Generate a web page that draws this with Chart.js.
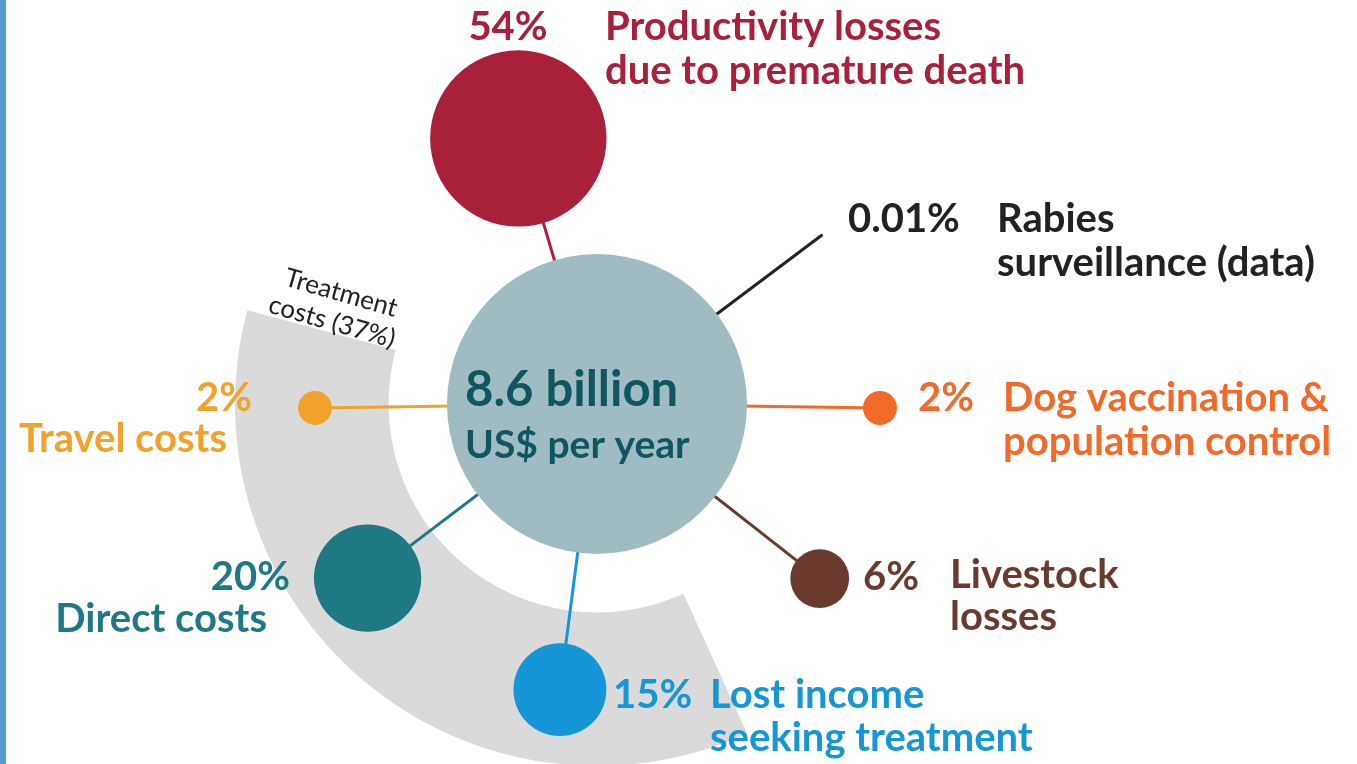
<!DOCTYPE html>
<html>
<head>
<meta charset="utf-8">
<script src="https://cdn.jsdelivr.net/npm/chart.js@4"></script>
<style>
html,body{margin:0;padding:0;background:#ffffff;overflow:hidden;}
#wrap{position:relative;width:1357px;height:764px;overflow:hidden;background:#ffffff;}
#arcBox{position:absolute;left:227px;top:34px;width:740px;height:740px;}
#main{position:absolute;left:0;top:0;}
#stripe{position:absolute;left:0;top:0;width:6px;height:764px;background:#5b9bd5;}
</style>
</head>
<body>
<div id="wrap">
  <div id="arcBox"><canvas id="arc" width="740" height="740"></canvas></div>
  <canvas id="main" width="1357" height="764"></canvas>
  <div id="stripe"></div>
</div>
<script>
// ---------------- data ----------------
const categories = [
  'Productivity losses due to premature death',
  'Rabies surveillance (data)',
  'Dog vaccination & population control',
  'Livestock losses',
  'Lost income seeking treatment',
  'Direct costs',
  'Travel costs'
];
const labelLines = [
  ['Productivity losses', 'due to premature death'],
  ['Rabies', 'surveillance (data)'],
  ['Dog vaccination &', 'population control'],
  ['Livestock', 'losses'],
  ['Lost income', 'seeking treatment'],
  ['Direct costs'],
  ['Travel costs']
];
const shares = [54, 0.01, 2, 6, 15, 20, 2];
const shareLabels = ['54%', '0.01%', '2%', '6%', '15%', '20%', '2%'];
const totalLines = ['8.6 billion', 'US$ per year'];
const treatmentShare = 37;
const treatmentLines = ['Treatment', 'costs (37%)'];

// ---------------- styles ----------------
const colors = ['#a9203b', '#222222', '#f26a2a', '#6a3a2f', '#1496d7', '#1e7985', '#f1a22b'];
const centerColor = '#9ebcc1';
const centerTextColor = '#0f5661';
const arcColor = '#dbdadb';

// ---------------- layout ----------------
const spokeAngle = [-106.5, -36.9, 0.8, 38.1, 97.4, 142.8, 179.2]; // degrees, clockwise from east
const spokeLength = [277, 281, 283, 283, 288, 288, 282];
const bubbleScale = 12;      // px per sqrt(percent)
const centerRadius = 150;
// text layout: [x, baseline, align]
const shareTextPos = [[508, 40, 'center'], [848, 232, 'left'], [918, 411, 'left'], [863, 590, 'left'], [613, 708, 'left'], [290, 590, 'right'], [252, 411, 'right']];
const labelTextPos = [[605, 40, 'left'], [997, 232, 'left'], [1003, 411, 'left'], [950, 588, 'left'], [710, 708, 'left'], [267, 632, 'right'], [227, 452, 'right']];
const lineGap = [44, 44, 44, 42, 43, 44, 44];

const rad = d => d * Math.PI / 180;
const spokeX = spokeAngle.map((a, i) => spokeLength[i] * Math.cos(rad(a)));
const spokeY = spokeAngle.map((a, i) => spokeLength[i] * Math.sin(rad(a)));

function draw() {
  // ---- treatment arc (doughnut) ----
  new Chart(document.getElementById('arc'), {
    type: 'doughnut',
    data: {
      labels: ['Treatment costs', ''],
      datasets: [{
        data: [treatmentShare, 100 - treatmentShare],
        backgroundColor: [arcColor, 'rgba(0,0,0,0)'],
        borderWidth: 0
      }]
    },
    options: {
      responsive: false,
      animation: false,
      events: [],
      radius: 362,
      cutout: 213,
      rotation: 155.5,
      circumference: 350,
      layout: { padding: 0, autoPadding: false },
      plugins: { legend: { display: false }, tooltip: { enabled: false } }
    }
  });

  // ---- bubbles & spokes ----
  const bubbleData = [{ x: 0, y: 0, r: centerRadius }].concat(
    shares.map((s, i) => ({ x: spokeX[i], y: spokeY[i], r: bubbleScale * Math.sqrt(s) }))
  );
  const bubbleColors = [centerColor].concat(colors);

  const spokeSets = shares.map((s, i) => ({
    type: 'line',
    data: [{ x: 0, y: 0 }, { x: spokeX[i], y: spokeY[i] }],
    borderColor: colors[i],
    borderWidth: 3,
    pointRadius: 0,
    fill: false,
    tension: 0
  }));

  const textPlugin = {
    id: 'texts',
    afterDatasetsDraw(chart) {
      const ctx = chart.ctx;
      ctx.save();
      ctx.textBaseline = 'alphabetic';
      const F = 'Lato, "Open Sans", sans-serif';
      shares.forEach((s, i) => {
        ctx.fillStyle = colors[i];
        ctx.font = 'bold 40px ' + F;
        const sp = shareTextPos[i];
        ctx.textAlign = sp[2];
        ctx.fillText(shareLabels[i], sp[0], sp[1]);
        const lp = labelTextPos[i];
        ctx.textAlign = lp[2];
        labelLines[i].forEach((t, k) => ctx.fillText(t, lp[0], lp[1] + k * lineGap[i]));
      });
      // center total
      ctx.fillStyle = centerTextColor;
      ctx.textAlign = 'left';
      ctx.font = 'bold 49px ' + F;
      ctx.fillText(totalLines[0], 465, 406);
      ctx.font = 'bold 39px ' + F;
      ctx.fillText(totalLines[1], 465, 458);
      // treatment label
      ctx.fillStyle = '#222222';
      ctx.font = '26px ' + F;
      ctx.textAlign = 'center';
      ctx.textBaseline = 'middle';
      ctx.save();
      ctx.translate(341, 293);
      ctx.rotate(rad(16));
      ctx.fillText(treatmentLines[0], 0, 0);
      ctx.restore();
      ctx.save();
      ctx.translate(332, 322);
      ctx.rotate(rad(16));
      ctx.fillText(treatmentLines[1], 0, 0);
      ctx.restore();
      ctx.restore();
    }
  };

  new Chart(document.getElementById('main'), {
    type: 'scatter',
    data: {
      datasets: [{
        type: 'bubble',
        data: bubbleData,
        backgroundColor: bubbleColors,
        borderWidth: 0,
        hoverBorderWidth: 0
      }].concat(spokeSets)
    },
    options: {
      responsive: false,
      animation: false,
      events: [],
      layout: { padding: 0, autoPadding: false },
      scales: {
        x: { type: 'linear', min: -597, max: 760, display: false },
        y: { type: 'linear', min: -404, max: 360, reverse: true, display: false }
      },
      plugins: { legend: { display: false }, tooltip: { enabled: false } }
    },
    plugins: [textPlugin]
  });
}

if (document.fonts && document.fonts.load) {
  Promise.all([
    document.fonts.load('bold 40px Lato'),
    document.fonts.load('26px Lato')
  ]).then(draw, draw);
} else {
  draw();
}
</script>
</body>
</html>
